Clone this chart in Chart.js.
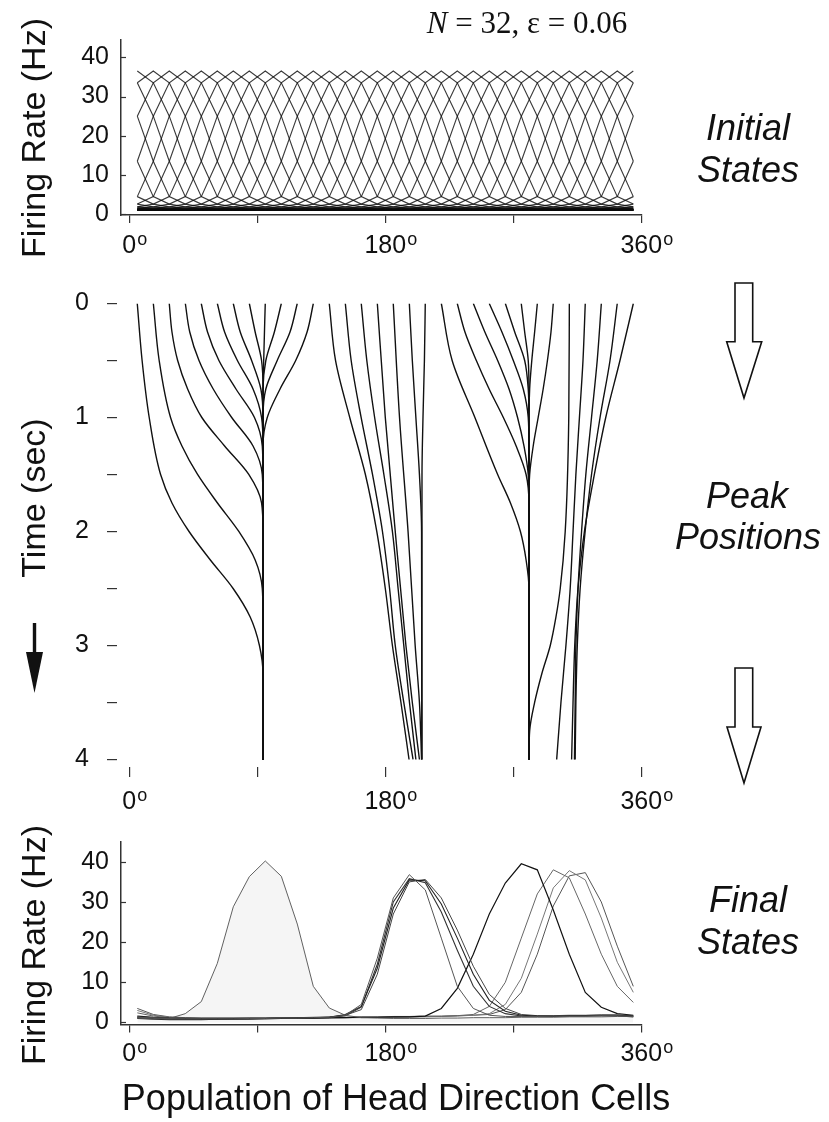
<!DOCTYPE html>
<html>
<head>
<meta charset="utf-8">
<script src="https://cdn.jsdelivr.net/npm/chart.js@4.4.0/dist/chart.umd.min.js"></script>
<style>
  html, body { margin: 0; padding: 0; background: #fff; }
  #page { position: relative; width: 829px; height: 1122px; overflow: hidden; }
  canvas { position: absolute; }
  #overlay { position: absolute; left: 0; top: 0; }
</style>
</head>
<body>
<div id="page">
  <canvas id="initialChart" width="700" height="270" style="left:0;top:0"></canvas>
  <canvas id="peakChart" width="700" height="580" style="left:0;top:250px"></canvas>
  <canvas id="finalChart" width="700" height="300" style="left:0;top:800px"></canvas>
  <svg id="overlay" width="829" height="1122" font-family="'Liberation Sans', Arial, Helvetica, sans-serif" fill="#111">
    <text x="527" y="33" text-anchor="middle" font-family="'Liberation Serif', 'Times New Roman', serif" font-size="31"><tspan font-style="italic">N</tspan> = 32, ε = 0.06</text>

    <text x="748" y="139.5" text-anchor="middle" font-size="36" font-style="italic">Initial</text>
    <text x="748" y="181.5" text-anchor="middle" font-size="36" font-style="italic">States</text>
    <text x="747" y="508" text-anchor="middle" font-size="36" font-style="italic">Peak</text>
    <text x="748" y="549" text-anchor="middle" font-size="36" font-style="italic">Positions</text>
    <text x="748" y="912" text-anchor="middle" font-size="36" font-style="italic">Final</text>
    <text x="748" y="954" text-anchor="middle" font-size="36" font-style="italic">States</text>

    <text transform="translate(45,138) rotate(-90)" text-anchor="middle" font-size="34">Firing Rate (Hz)</text>
    <text transform="translate(45,498) rotate(-90)" text-anchor="middle" font-size="34">Time (sec)</text>
    <text transform="translate(45,945) rotate(-90)" text-anchor="middle" font-size="34">Firing Rate (Hz)</text>
    <text x="396" y="1110" text-anchor="middle" font-size="36">Population of Head Direction Cells</text>

    <!-- hollow arrows between the panels -->
    <polygon points="735,283 752.7,283 752.7,341.7 761.7,341.7 744,398 726.7,341.7 735,341.7" fill="#fff" stroke="#111" stroke-width="1.6"/>
    <polygon points="735,668 752.7,668 752.7,727 761,727 744,783 727,727 735,727" fill="#fff" stroke="#111" stroke-width="1.6"/>
    <!-- time direction arrow -->
    <line x1="34.5" y1="623" x2="34.5" y2="656" stroke="#111" stroke-width="3.4"/>
    <polygon points="26,652 43,652 34.5,693" fill="#111"/>
  </svg>
</div>

<script>
// ---- data ----
// preferred directions of the 32 cells (deg)
const cellAngles = [5.625, 16.875, 28.125, 39.375, 50.625, 61.875, 73.125, 84.375,
  95.625, 106.875, 118.125, 129.375, 140.625, 151.875, 163.125, 174.375,
  185.625, 196.875, 208.125, 219.375, 230.625, 241.875, 253.125, 264.375,
  275.625, 286.875, 298.125, 309.375, 320.625, 331.875, 343.125, 354.375];

// initial bump: firing rate vs. distance (in cells) from its peak
const initialProfile = [36.5, 33.5, 25, 13.5, 4.5, 2.6, 1.9, 1.6, 1.4, 1.3, 1.2, 1.2, 1.1, 1.1, 1.1, 1.0, 1.0];

// peak trajectories: [time (s), peak position (deg)], one per initial state
const peakPaths = [
  [[0,5.6],[0.5,9],[1,14],[1.5,22],[1.75,30],[2,42],[2.25,57],[2.5,73],[2.75,85],[3,91.5],[3.25,94],[4,94]],
  [[0,16.9],[0.5,21],[1,29],[1.25,37],[1.5,48],[1.75,62],[2,77],[2.25,88.5],[2.5,93.5],[2.75,94],[4,94]],
  [[0,28.1],[0.25,30],[0.5,34],[0.75,41],[1,51],[1.25,67],[1.5,84],[1.75,93],[2,94],[4,94]],
  [[0,39.4],[0.25,42.5],[0.5,49],[0.75,59],[1,72],[1.25,87],[1.5,93.5],[1.75,94],[4,94]],
  [[0,50.6],[0.25,55],[0.5,63],[0.75,75],[1,88],[1.25,93.5],[1.5,94],[4,94]],
  [[0,61.9],[0.25,67],[0.5,76],[0.75,87],[1,93],[1.25,94],[4,94]],
  [[0,73.1],[0.25,78],[0.5,86],[0.75,92.5],[1,94],[4,94]],
  [[0,84.4],[0.25,88.5],[0.5,93],[0.75,94],[4,94]],
  [[0,95.6],[0.5,94.5],[1,94],[4,94]],
  [[0,106.9],[0.25,102],[0.5,96],[0.75,94],[4,94]],
  [[0,118.1],[0.25,113],[0.5,104],[0.75,96],[1,94],[4,94]],
  [[0,129.4],[0.25,125],[0.5,117],[0.75,106],[1,97],[1.25,94],[4,94]],
  [[0,140.6],[0.5,145],[1,155],[1.5,166],[2,174],[2.5,180],[3,185],[3.5,191],[4,196.7]],
  [[0,151.9],[0.5,156],[1,163],[1.5,171],[2,178],[2.5,183],[3,187],[3.5,193],[4,199.5]],
  [[0,163.1],[0.5,167],[1,172.5],[1.5,179],[2,185],[2.5,189],[3,193],[3.5,197],[4,201.5]],
  [[0,174.4],[1,180],[2,187],[3,194.5],[3.5,199],[4,204]],
  [[0,185.6],[1,190],[2,196],[3,201],[3.5,204],[4,205.5]],
  [[0,196.9],[0.5,199],[1,201.5],[1.5,204],[2,205.5],[4,205.7]],
  [[0,208.1],[0.5,207.5],[1,206.5],[1.5,205.8],[4,205.7]],
  [[0,219.4],[0.5,227],[1,243],[1.5,259],[1.75,268],[2,275],[2.25,279],[2.5,281],[4,281]],
  [[0,230.6],[0.25,236],[0.5,244],[0.75,253],[1,263],[1.25,272],[1.5,279],[1.75,281],[4,281]],
  [[0,241.9],[0.25,250],[0.5,259],[0.75,267],[1,273],[1.25,277.5],[1.5,280.5],[1.75,281],[4,281]],
  [[0,253.1],[0.25,262],[0.5,270],[0.75,277],[1,280.5],[1.25,281],[4,281]],
  [[0,264.4],[0.25,271],[0.5,278],[0.75,280.5],[1,281],[4,281]],
  [[0,275.6],[0.25,278],[0.5,280.5],[0.75,281],[4,281]],
  [[0,286.9],[0.25,285],[0.5,283],[0.75,281.5],[1,281],[4,281]],
  [[0,298.1],[0.25,296.5],[0.5,294],[0.75,291],[1,287.5],[1.25,284],[1.5,281.5],[1.75,281],[4,281]],
  [[0,309.4],[1,309],[2,306.5],[2.5,303],[2.75,300],[3,296],[3.25,290],[3.5,285],[3.75,281.5],[4,281]],
  [[0,320.6],[0.5,319],[1,316.5],[1.5,314],[2,312],[2.5,310],[3,307],[3.5,303.5],[4,300.5]],
  [[0,331.9],[0.5,329],[1,325],[1.5,321],[2,318],[2.5,315.5],[3,314],[3.5,313.5],[4,313]],
  [[0,343.1],[0.5,338],[1,331],[1.5,325],[2,320.5],[2.5,317],[3,315],[3.5,314],[4,313.5]],
  [[0,354.4],[0.5,345],[1,335],[1.5,327],[2,320],[2.5,315.5],[3,313.2],[3.5,312],[4,311]]
];

// final states: firing rate (Hz) of each cell
const finalA  = [1.1,0.9,1.0,2.2,5.2,14.7,28.8,36.3,40.2,36.4,24.5,9.0,3.6,1.8,1.2,1.1,1.0,1.0,1.0,1.1,1.1,1.2,1.2,1.2,1.3,1.3,1.3,1.4,1.4,1.4,1.5,1.5];
const finalB1 = [1.3,1.1,1.0,0.9,0.9,0.9,0.9,1.0,1.0,1.1,1.1,1.2,1.3,1.8,4.5,16,31,36.8,33,21,9,3.5,1.8,1.5,1.5,1.5,1.6,1.6,1.6,1.7,1.7,1.5];
const finalB2 = [1.2,1.0,0.9,0.8,0.8,0.8,0.9,0.9,1.0,1.0,1.1,1.2,1.3,2.0,4.0,13.5,28.5,35.5,35.3,29.5,21,12,5.5,2.8,1.8,1.6,1.6,1.7,1.7,1.8,1.8,1.6];
const finalB3 = [1.4,1.2,1.1,1.0,1.0,1.0,1.0,1.1,1.1,1.2,1.2,1.3,1.4,1.8,3.2,12,27,35,35.6,31,23,14,7,3.5,2.0,1.7,1.7,1.8,1.8,1.9,1.9,1.7];
const finalB4 = [1.0,0.8,0.7,0.7,0.7,0.8,0.8,0.9,0.9,1.0,1.0,1.1,1.2,1.7,3.8,14.5,30,35.8,34.8,27.5,18,9,4,2.2,1.6,1.5,1.5,1.6,1.6,1.7,1.7,1.4];
const finalC  = [1.6,1.3,1.1,1.0,1.0,1.0,1.0,1.0,1.0,1.1,1.1,1.1,1.2,1.2,1.3,1.3,1.4,1.4,1.6,3.5,8.5,17,27,34.7,39.5,38,28,17,7.5,3.8,2.2,1.8];
const finalD1 = [2.4,1.6,1.2,1.0,0.9,0.9,0.9,0.9,1.0,1.0,1.0,1.1,1.1,1.2,1.2,1.3,1.3,1.4,1.4,1.5,1.7,2.0,4.0,10,21,32,38,36,27,17,9,5];
const finalD2 = [3.0,1.8,1.3,1.1,1.0,1.0,1.0,1.0,1.0,1.1,1.1,1.1,1.2,1.2,1.3,1.3,1.4,1.4,1.5,1.5,1.6,1.8,2.2,4.5,11,22,33.5,37.8,35.5,26,15,7.5];
const finalD3 = [3.5,2.0,1.4,1.2,1.1,1.1,1.1,1.1,1.1,1.2,1.2,1.2,1.3,1.3,1.4,1.4,1.5,1.5,1.6,1.6,1.7,1.8,2.0,3.2,7.5,17,29,36.5,37.3,30,19,9];

// axis ticks
const rateTicks = [0, 10, 20, 30, 40];
const timeTicks = [0, 0.5, 1, 1.5, 2, 2.5, 3, 3.5, 4];
const angleTicks = [0, 90, 180, 270, 360];
const angleLabels = [0, 180, 360];

// ---- drawing ----
const FONT = "'Liberation Sans', Arial, Helvetica, sans-serif";
const INK = '#111';
Chart.defaults.font.family = FONT;

const fixedWidth = (w) => (scale) => { scale.width = w; };
const fixedHeight = (h) => (scale) => { scale.height = h; };
const setTicks = (values) => (scale) => { scale.ticks = values.map((v) => ({ value: v })); };

// "0°"-style labels with a raised small o, placed on the x scale
const degreeLabels = {
  id: 'degreeLabels',
  afterDraw(chart, args, opts) {
    const { ctx, scales: { x } } = chart;
    const mid = x.top + opts.offset;
    ctx.save();
    ctx.fillStyle = INK;
    angleLabels.forEach((v) => {
      const px = x.getPixelForValue(v);
      const txt = String(v);
      ctx.font = `25px ${FONT}`;
      ctx.textAlign = 'center';
      ctx.textBaseline = 'alphabetic';
      ctx.fillText(txt, px, mid + 9);
      const w = ctx.measureText(txt).width;
      ctx.font = `18px ${FONT}`;
      ctx.textAlign = 'left';
      ctx.fillText('o', px + w / 2 + 1, mid + 0.5);
    });
    ctx.restore();
  }
};

// short ticks pointing into the plot from the y axis line
const inwardTicks = {
  id: 'inwardTicks',
  afterDraw(chart, args, opts) {
    const { ctx, chartArea, scales: { y } } = chart;
    ctx.save();
    ctx.strokeStyle = '#333';
    ctx.lineWidth = 1.2;
    rateTicks.forEach((v) => {
      const py = Math.round(y.getPixelForValue(v)) + 0.5;
      ctx.beginPath();
      ctx.moveTo(chartArea.left, py);
      ctx.lineTo(chartArea.left + opts.length, py);
      ctx.stroke();
    });
    ctx.restore();
  }
};

const baseOptions = {
  responsive: false,
  animation: false,
  events: [],
  plugins: { legend: { display: false }, tooltip: { enabled: false } }
};

function rateAxis(min, max) {
  return {
    type: 'linear', min, max,
    afterBuildTicks: setTicks(rateTicks),
    afterFit: fixedWidth(60),
    ticks: { font: { size: 25 }, color: INK, padding: 12, autoSkip: false },
    grid: { display: true, drawOnChartArea: false, drawTicks: false },
    border: { display: true, color: '#333', width: 1.5 }
  };
}

function angleAxis(min, tickLength, height, showBorder) {
  return {
    type: 'linear', min, max: 360,
    afterBuildTicks: setTicks(angleTicks),
    afterFit: fixedHeight(height),
    ticks: { display: false },
    grid: { display: true, drawOnChartArea: false, drawTicks: true, tickLength, color: '#333', lineWidth: 1.2 },
    border: { display: showBorder, color: '#333', width: 1.5 }
  };
}

const ringDistance = (a, b) => Math.min(Math.abs(a - b), cellAngles.length - Math.abs(a - b));

// top: initial states, one bump per starting cell
new Chart(document.getElementById('initialChart'), {
  type: 'line',
  data: {
    datasets: cellAngles.map((_, k) => ({
      data: cellAngles.map((a, j) => ({ x: a, y: initialProfile[ringDistance(j, k)] })),
      borderColor: 'rgba(10,10,10,0.8)',
      borderWidth: 1.15,
      pointRadius: 0,
      tension: 0
    }))
  },
  plugins: [degreeLabels, inwardTicks],
  options: {
    ...baseOptions,
    layout: { padding: { left: 61, right: 58.7, top: 39.6, bottom: 0 } },
    scales: {
      x: angleAxis(-5.84, 8, 55, true),
      y: rateAxis(-0.18, 44.5)
    },
    plugins: { ...baseOptions.plugins, degreeLabels: { offset: 29 }, inwardTicks: { length: 5 } }
  }
});

// middle: peak position over time
new Chart(document.getElementById('peakChart'), {
  type: 'line',
  data: {
    datasets: peakPaths.map((path) => ({
      data: path.map(([t, deg]) => ({ x: deg, y: t })),
      borderColor: '#111',
      borderWidth: 1.4,
      pointRadius: 0,
      cubicInterpolationMode: 'monotone'
    }))
  },
  plugins: [degreeLabels],
  options: {
    ...baseOptions,
    indexAxis: 'y',
    layout: { padding: { left: 17, right: 58.7, top: 53.5, bottom: 13 } },
    scales: {
      x: angleAxis(-8.65, 10, 50, false),
      y: {
        type: 'linear', min: 0, max: 4.066, reverse: true,
        afterBuildTicks: setTicks(timeTicks),
        afterFit: fixedWidth(100),
        ticks: {
          font: { size: 25 }, color: INK, padding: 18, autoSkip: false,
          callback: (v) => (Number.isInteger(v) ? String(v) : '')
        },
        grid: { display: true, drawOnChartArea: false, drawTicks: true, tickLength: 10, color: '#333', lineWidth: 1.2 },
        border: { display: false }
      }
    },
    plugins: { ...baseOptions.plugins, degreeLabels: { offset: 33 } }
  }
});

// bottom: final states
const finalSeries = [
  { values: finalA, color: 'rgba(80,80,80,0.9)', width: 1, fill: 'rgba(0,0,0,0.04)' },
  { values: finalB1, color: '#555', width: 1 },
  { values: finalB2, color: '#222', width: 1.1 },
  { values: finalB3, color: '#444', width: 1 },
  { values: finalB4, color: '#333', width: 1.1 },
  { values: finalC, color: '#111', width: 1.2 },
  { values: finalD1, color: '#666', width: 1 },
  { values: finalD2, color: '#777', width: 1 },
  { values: finalD3, color: '#555', width: 1 }
];

new Chart(document.getElementById('finalChart'), {
  type: 'line',
  data: {
    datasets: finalSeries.map((s) => ({
      data: cellAngles.map((a, j) => ({ x: a, y: s.values[j] })),
      borderColor: s.color,
      borderWidth: s.width,
      pointRadius: 0,
      tension: 0,
      fill: s.fill ? 'origin' : false,
      backgroundColor: s.fill || 'transparent'
    }))
  },
  plugins: [degreeLabels, inwardTicks],
  options: {
    ...baseOptions,
    layout: { padding: { left: 61, right: 58.7, top: 41.7, bottom: 20.5 } },
    scales: {
      x: angleAxis(-5.84, 8, 55, true),
      y: rateAxis(-0.5, 45)
    },
    plugins: { ...baseOptions.plugins, degreeLabels: { offset: 27.5 }, inwardTicks: { length: 5 } }
  }
});
</script>
</body>
</html>
